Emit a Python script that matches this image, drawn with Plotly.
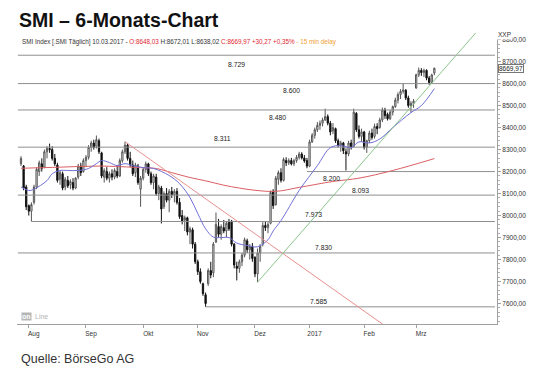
import plotly.graph_objects as go

# ---------------- data ----------------
open_ = [8235, 8225, 8130, 8045, 8020, 8060, 8130, 8200, 8235, 8220,
         8290, 8305, 8300, 8260, 8230, 8165, 8190, 8130, 8160, 8140,
         8150, 8125, 8175, 8225, 8200, 8250, 8265, 8310, 8330, 8315,
         8340, 8285, 8175, 8200, 8170, 8190, 8175, 8200, 8180, 8250,
         8290, 8320, 8260, 8230, 8195, 8225, 8120, 8170, 8210, 8235,
         8190, 8150, 8175, 8100, 8125, 8040, 8100, 8070, 8110, 8095,
         8110, 8060, 8000, 7980, 7990, 7925, 7935, 7870, 7790, 7745,
         7690, 7640, 7690, 7750, 7740, 7880, 7950, 7915, 7945, 7930,
         7970, 7975, 7870, 7770, 7760, 7790, 7820, 7885, 7845, 7860,
         7810, 7735, 7830, 7870, 7955, 7945, 7965, 8110, 8050, 8165,
         8195, 8160, 8250, 8240, 8250, 8235, 8250, 8265, 8280, 8262,
         8250, 8225, 8335, 8365, 8390, 8410, 8420, 8435, 8450, 8420,
         8385, 8395, 8340, 8320, 8330, 8290, 8280, 8330, 8315, 8465,
         8390, 8360, 8380, 8310, 8340, 8375, 8360, 8405, 8400, 8435,
         8480, 8460, 8440, 8470, 8495, 8525, 8550, 8565, 8570, 8535,
         8500, 8510, 8580, 8640, 8660, 8650, 8660, 8625, 8605, 8648.03]
high = [8270, 8230, 8140, 8050, 8060, 8140, 8220, 8250, 8260, 8300,
        8315, 8327, 8315, 8280, 8240, 8205, 8200, 8175, 8180, 8165,
        8170, 8175, 8235, 8240, 8260, 8275, 8320, 8340, 8345, 8364,
        8350, 8290, 8215, 8220, 8200, 8210, 8215, 8230, 8260, 8300,
        8336, 8330, 8290, 8250, 8240, 8235, 8180, 8220, 8245, 8240,
        8200, 8190, 8190, 8140, 8135, 8110, 8125, 8120, 8130, 8120,
        8125, 8080, 8025, 8000, 7995, 7950, 7945, 7880, 7800, 7760,
        7695, 7650, 7760, 7790, 7880, 8014, 7985, 7960, 7980, 7975,
        7985, 7980, 7875, 7790, 7800, 7830, 7900, 7895, 7870, 7875,
        7815, 7850, 7870, 7970, 7975, 7970, 8114, 8120, 8180, 8205,
        8215, 8264, 8265, 8260, 8262, 8258, 8275, 8290, 8288, 8275,
        8262, 8345, 8375, 8400, 8425, 8432, 8445, 8486, 8460, 8430,
        8420, 8400, 8350, 8340, 8335, 8305, 8340, 8345, 8486, 8470,
        8410, 8395, 8385, 8345, 8386, 8395, 8418, 8420, 8445, 8491,
        8490, 8468, 8480, 8500, 8536, 8560, 8575, 8600, 8575, 8545,
        8520, 8530, 8645, 8673, 8670, 8668, 8665, 8635, 8645, 8672.01]
low = [8225, 8115, 8025, 8000, 7973, 8050, 8120, 8180, 8200, 8215,
       8260, 8285, 8250, 8225, 8150, 8140, 8115, 8115, 8125, 8120,
       8115, 8120, 8165, 8180, 8195, 8220, 8255, 8290, 8300, 8305,
       8280, 8170, 8150, 8160, 8150, 8160, 8165, 8170, 8175, 8240,
       8280, 8250, 8220, 8180, 8175, 8140, 8040, 8160, 8195, 8180,
       8140, 8120, 8090, 8070, 7964, 8030, 8060, 8015, 8080, 8060,
       8050, 7985, 7960, 7930, 7910, 7870, 7850, 7780, 7730, 7690,
       7635, 7585, 7680, 7715, 7720, 7875, 7900, 7890, 7920, 7900,
       7930, 7860, 7760, 7705, 7740, 7770, 7810, 7830, 7800, 7790,
       7720, 7697, 7790, 7860, 7930, 7920, 7960, 8030, 8045, 8140,
       8150, 8155, 8225, 8230, 8228, 8225, 8240, 8255, 8255, 8240,
       8215, 8220, 8330, 8350, 8380, 8390, 8405, 8430, 8410, 8365,
       8370, 8330, 8310, 8290, 8280, 8205, 8270, 8300, 8310, 8380,
       8350, 8335, 8300, 8285, 8330, 8345, 8350, 8370, 8395, 8425,
       8440, 8432, 8435, 8455, 8490, 8510, 8530, 8555, 8525, 8490,
       8468, 8490, 8577, 8630, 8635, 8630, 8615, 8595, 8598, 8638.02]
close = [8260, 8125, 8040, 8020, 8050, 8130, 8210, 8240, 8215, 8290,
         8305, 8300, 8260, 8235, 8160, 8195, 8125, 8165, 8135, 8155,
         8125, 8170, 8225, 8195, 8250, 8265, 8310, 8330, 8310, 8345,
         8290, 8180, 8205, 8170, 8190, 8175, 8205, 8180, 8250, 8290,
         8320, 8260, 8230, 8190, 8230, 8150, 8170, 8210, 8235, 8190,
         8150, 8180, 8100, 8130, 8030, 8100, 8070, 8110, 8095, 8110,
         8060, 7995, 7975, 7990, 7925, 7940, 7870, 7790, 7745, 7700,
         7645, 7600, 7750, 7730, 7870, 7960, 7915, 7950, 7930, 7965,
         7940, 7870, 7775, 7760, 7790, 7820, 7890, 7845, 7860, 7805,
         7735, 7830, 7860, 7955, 7945, 7960, 8105, 8045, 8170, 8195,
         8160, 8255, 8240, 8250, 8235, 8250, 8265, 8280, 8262, 8248,
         8225, 8335, 8365, 8390, 8410, 8420, 8435, 8450, 8420, 8380,
         8400, 8340, 8318, 8330, 8295, 8280, 8330, 8310, 8470, 8390,
         8360, 8380, 8310, 8340, 8375, 8355, 8405, 8395, 8435, 8480,
         8455, 8440, 8470, 8495, 8525, 8550, 8565, 8570, 8535, 8500,
         8510, 8520, 8640, 8660, 8650, 8660, 8625, 8605, 8639.70, 8669.97]

# month starts (trading-day index) and their labels
month_idx = [3, 25, 47, 68, 90, 111, 132, 152]
month_labels = ["Aug", "Sep", "Okt", "Nov", "Dez", "2017", "Feb", "Mrz"]

# moving averages (trading-day index, value)
ma20_idx = [0, 3, 5, 10, 12, 15, 18, 22, 26, 29, 31, 34, 37, 40, 43, 47, 51,
            57, 61, 65, 68, 71, 74, 77, 80, 83, 87, 91, 95, 97, 100, 107,
            114, 119, 123, 127, 130, 134, 138, 143, 150, 154, 159]
ma20_val = [8130, 8114, 8120, 8159, 8190, 8205, 8205, 8205, 8214, 8236, 8250,
            8241, 8227, 8236, 8227, 8218, 8214, 8182, 8145, 8082, 8009, 7940,
            7902, 7900, 7900, 7875, 7864, 7858, 7890, 7930, 7977, 8114, 8227,
            8309, 8318, 8309, 8335, 8330, 8348, 8400, 8468, 8500, 8577]
ma200_idx = [0, 15, 30, 46, 52, 58, 65, 71, 78, 84, 90, 98, 107, 120, 130, 143, 159]
ma200_val = [8215, 8220, 8225, 8218, 8214, 8195, 8173, 8158, 8138, 8125, 8115,
             8110, 8128, 8155, 8170, 8205, 8259]

# trend lines (anchor index, value)
down_trend_idx = [40, 150]
down_trend_val = [8336, 7415]
up_trend_idx = [91, 176]
up_trend_val = [7697, 8845]

# horizontal support / resistance levels
levels = [8729, 8600, 8480, 8311, 8200, 8093, 7973, 7830, 7585]
level_start = [-1.2, -1.2, -1.2, -1.2, 110, -1.2, 4, -1.2, 71]
level_text = ["8.729", "8.600", "8.480", "8.311", "8.200", "8.093", "7.973", "7.830", "7.585"]
level_label_idx = [83, 104, 98.5, 77.5, 119.5, 130.5, 112.5, 116.5, 114.5]

ytick_vals = [7600, 7700, 7800, 7900, 8000, 8100, 8200, 8300, 8400, 8500, 8600, 8700, 8800]
ytick_text = ["7600,00", "7700,00", "7800,00", "7900,00", "8000,00", "8100,00", "8200,00",
              "8300,00", "8400,00", "8500,00", "8600,00", "8700,00", "8800,00"]

# ---------------- layout geometry ----------------
# the page body adds an 8px margin, so the figure is 8px smaller and offset
OFF = 8
W, H = 540 - OFF, 372 - OFF
L, R, T, B = 17, 497, 33, 324          # plot area in page pixels
FONT = "Liberation Sans, Arial, sans-serif"


def px(x):
    return (x - L) / (R - L)


def py(y):
    return (B - y) / (B - T)


x_idx = list(range(len(close)))
fig = go.Figure()

# level lines
for lv, st in zip(levels, level_start):
    fig.add_trace(go.Scatter(x=[st, 182.3], y=[lv, lv], mode="lines",
                             line=dict(color="#8f8f8f", width=1), hoverinfo="skip",
                             showlegend=False))

# moving averages
fig.add_trace(go.Scatter(x=ma200_idx, y=ma200_val, mode="lines", line_shape="spline",
                         line=dict(color="#dc5f64", width=1), showlegend=False))
fig.add_trace(go.Scatter(x=ma20_idx, y=ma20_val, mode="lines", line_shape="spline",
                         line=dict(color="#7070d8", width=1), showlegend=False))

# trend lines
fig.add_trace(go.Scatter(x=down_trend_idx, y=down_trend_val, mode="lines",
                         line=dict(color="#e98f8f", width=1), showlegend=False))
fig.add_trace(go.Scatter(x=up_trend_idx, y=up_trend_val, mode="lines",
                         line=dict(color="#8cc48c", width=1), showlegend=False))

# candles
fig.add_trace(go.Candlestick(
    x=x_idx, open=open_, high=high, low=low, close=close,
    increasing=dict(line=dict(color="#555555", width=1), fillcolor="#ffffff"),
    decreasing=dict(line=dict(color="#111111", width=1), fillcolor="#111111"),
    whiskerwidth=0, showlegend=False, hoverinfo="skip"))

ann = []
# level labels
shifts = {8729: -9, 8600: -7, 8480: -8, 8311: 9, 8200: -7, 8093: 5, 7973: 7, 7830: 5, 7585: 5}
for lv, t, xi in zip(levels, level_text, level_label_idx):
    ann.append(dict(x=xi, y=lv, xref="x", yref="y", text=t, showarrow=False,
                    yshift=shifts[lv], font=dict(family=FONT, size=6.8, color="#222")))

# title / header
ann.append(dict(x=px(17), y=py(20), xref="paper", yref="paper", xanchor="left",
                yanchor="middle", text="<b>SMI – 6-Monats-Chart</b>", showarrow=False,
                font=dict(family=FONT, size=19.5, color="#111")))
sub = ("SMI Index [.SMI Täglich] 10.03.2017 - "
       "<span style='color:#e0262f'>O:8648,03</span> H:8672,01 L:8638,02 "
       "<span style='color:#e0262f'>C:8669,97 +30,27 +0,35%</span>"
       "<span style='color:#f0a030'> - 15 min delay</span>")
ann.append(dict(x=px(20), y=py(41.5), xref="paper", yref="paper", xanchor="left",
                yanchor="middle", text=sub, showarrow=False,
                font=dict(family=FONT, size=6.3, color="#333")))
ann.append(dict(x=px(19), y=py(359), xref="paper", yref="paper", xanchor="left",
                yanchor="middle", text="Quelle: BörseGo AG", showarrow=False,
                font=dict(family=FONT, size=12.5, color="#333")))
# axis header and last price box
ann.append(dict(x=px(496), y=py(34.5), xref="paper", yref="paper", xanchor="left",
                yanchor="middle", text="XXP", showarrow=False, bgcolor="white",
                font=dict(family=FONT, size=6.5, color="#333")))
ann.append(dict(x=px(498), y=close[-1], xref="paper", yref="y", xanchor="left",
                yanchor="middle", text="8669,97", showarrow=False, bgcolor="white",
                bordercolor="#777", borderwidth=1, borderpad=0,
                font=dict(family=FONT, size=6.5, color="#222")))
# small logo
ann.append(dict(x=px(21), y=py(316), xref="paper", yref="paper", xanchor="left",
                yanchor="middle", text="<b>on</b>", showarrow=False, bgcolor="#b5b5b5",
                borderpad=0, font=dict(family=FONT, size=7, color="white")))
ann.append(dict(x=px(33), y=py(316), xref="paper", yref="paper", xanchor="left",
                yanchor="middle", text="Line", showarrow=False,
                font=dict(family=FONT, size=7, color="#b5b5b5")))

fig.update_layout(
    width=W, height=H,
    margin=dict(l=L - OFF, r=W - (R - OFF), t=T - OFF, b=H - (B - OFF), pad=0),
    paper_bgcolor="white", plot_bgcolor="white", showlegend=False,
    boxgap=0.3, annotations=ann,
    font=dict(family=FONT, size=6.5, color="#333"),
    xaxis=dict(range=[-1.54, 183.1], showgrid=False, zeroline=False,
               showline=True, linecolor="#a0a0a0", linewidth=1,
               tickvals=month_idx, ticktext=month_labels, ticks="outside",
               ticklen=3, tickcolor="#a0a0a0", ticklabelshift=5,
               tickfont=dict(family=FONT, size=6.5, color="#333"),
               rangeslider=dict(visible=False), fixedrange=True),
    yaxis=dict(range=[7507, 8830], side="right", showgrid=False, zeroline=False,
               showline=True, linecolor="#a0a0a0", linewidth=1,
               tickvals=ytick_vals, ticktext=ytick_text, ticks="outside",
               ticklen=3, tickcolor="#a0a0a0",
               minor=dict(ticks="outside", ticklen=2, dtick=20, tickcolor="#b0b0b0"),
               tickfont=dict(family=FONT, size=6.5, color="#333"), fixedrange=True),
)

fig.write_html("out.html")
